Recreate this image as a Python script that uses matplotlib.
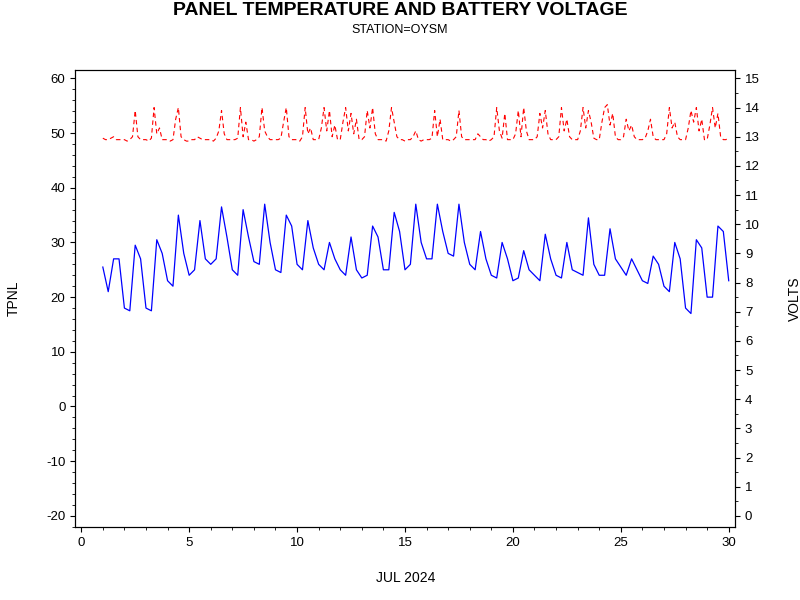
import numpy as np
import matplotlib.pyplot as plt
from matplotlib.ticker import MultipleLocator

plt.rcParams['font.family'] = ['Liberation Sans', 'DejaVu Sans']
plt.rcParams['axes.unicode_minus'] = False

# panel temperature, every 6 hours from day 1.0
temp_start = 1.0
tpnl = [
    25.5, 21, 27, 27,
    18, 17.5, 29.5, 27,
    18, 17.5, 30.5, 28,
    23, 22, 35, 28,
    24, 25, 34, 27,
    26, 27, 36.5, 31,
    25, 24, 36, 31,
    26.5, 26, 37, 30,
    25, 24.5, 35, 33,
    26, 25, 34, 29,
    26, 25, 30, 27,
    25, 24, 31, 25,
    23.5, 24, 33, 31,
    25, 25, 35.5, 32,
    25, 26, 37, 30,
    27, 27, 37, 32,
    28, 27.5, 37, 30,
    26, 25, 32, 27,
    24, 23.5, 30, 27,
    23, 23.5, 28.5, 25,
    24, 23, 31.5, 27,
    24, 23.5, 30, 25,
    24.5, 24, 34.5, 26,
    24, 24, 32.5, 27,
    25.5, 24, 27, 25,
    23, 22.5, 27.5, 26,
    22, 21, 30, 27,
    18, 17, 30.5, 29,
    20, 20, 33, 32,
    23,
]

# battery voltage, every 3 hours from day 1.0
volt_start = 1.0
volts = [
    12.95, 12.9, 12.9, 12.95, 13.0, 12.9, 12.9, 12.9,
    12.9, 12.85, 12.9, 13.0, 13.9, 13.0, 12.9, 12.9,
    12.9, 12.85, 12.95, 14.0, 13.1, 13.3, 12.9, 12.9,
    12.9, 12.85, 12.9, 13.6, 14.0, 13.0, 12.9, 12.85,
    12.85, 12.9, 12.9, 13.0, 12.95, 12.9, 12.9, 12.9,
    12.9, 12.85, 12.95, 13.2, 13.9, 13.1, 12.9, 12.9,
    12.9, 12.9, 12.95, 14.0, 13.0, 13.5, 12.9, 12.9,
    12.85, 12.9, 13.0, 14.0, 13.2, 13.0, 12.9, 12.9,
    12.9, 12.9, 12.95, 13.5, 14.0, 13.0, 12.9, 12.9,
    12.9, 12.85, 13.0, 14.0, 13.1, 13.3, 12.9, 12.9,
    12.9, 13.3, 14.0, 13.2, 13.9, 13.0, 13.4, 12.9,
    12.9, 13.5, 14.0, 13.2, 13.8, 13.1, 13.6, 12.9,
    12.9, 13.0, 13.9, 13.3, 14.0, 13.1, 12.9, 12.9,
    12.9, 12.85, 13.2, 14.0, 13.5, 13.0, 12.9, 12.9,
    12.85, 12.9, 12.9, 13.0, 13.2, 12.9, 12.85, 12.9,
    12.9, 12.9, 12.95, 13.9, 13.0, 13.6, 12.9, 12.9,
    12.9, 12.85, 12.9, 13.0, 13.9, 13.0, 12.9, 12.9,
    12.9, 12.9, 12.9, 13.1, 13.0, 12.9, 12.9, 12.85,
    12.9, 13.0, 14.0, 13.2, 12.95, 13.8, 12.9, 12.9,
    12.9, 13.1, 13.9, 13.0, 14.0, 13.2, 12.9, 12.9,
    12.9, 13.0, 13.8, 13.3, 13.9, 13.1, 12.9, 12.9,
    12.9, 13.0, 14.0, 13.2, 13.6, 13.0, 12.9, 12.9,
    12.9, 13.2, 14.0, 13.3, 13.9, 13.5, 12.95, 12.9,
    12.9, 13.5, 14.0, 14.1, 13.4, 13.8, 13.0, 12.9,
    12.9, 13.0, 13.6, 13.2, 13.4, 13.0, 12.9, 12.9,
    12.9, 12.95, 13.2, 13.6, 13.0, 12.9, 12.9, 12.9,
    12.9, 13.1, 14.0, 13.3, 13.5, 13.0, 12.9, 12.9,
    12.9, 13.3, 13.9, 13.5, 14.0, 13.2, 13.6, 12.9,
    12.9, 13.4, 14.0, 13.3, 13.8, 13.0, 12.9, 12.9,
    13.0,
]

t_days = temp_start + 0.25 * np.arange(len(tpnl))
v_days = volt_start + 0.125 * np.arange(len(volts))

fig = plt.figure(figsize=(8, 6), dpi=100)
ax = fig.add_axes([0.094, 0.122, 0.825, 0.761])
ax.plot(t_days, tpnl, color='blue', lw=0.9)
ax.set_xlim(-0.28, 30.3)
ax.set_ylim(-22, 61.5)
ax.xaxis.set_major_locator(MultipleLocator(5))
ax.xaxis.set_minor_locator(MultipleLocator(1))
ax.yaxis.set_major_locator(MultipleLocator(10))
ax.yaxis.set_minor_locator(MultipleLocator(2))
ax.set_ylabel('TPNL', fontsize=10, labelpad=18)
ax.set_xlabel('JUL 2024', fontsize=10, labelpad=16)

ax2 = ax.twinx()
ax2.plot(v_days, volts, color='red', lw=0.8, dashes=(4, 3))
ax2.set_ylim(-2 * 15 / 80, 81.5 * 15 / 80)
ax2.yaxis.set_major_locator(MultipleLocator(1))
ax2.yaxis.set_minor_locator(MultipleLocator(0.5))
ax2.set_ylabel('VOLTS', fontsize=10, labelpad=20)

for a in (ax, ax2):
    a.tick_params(labelsize=9.5)

fig.text(0.5, 0.982, 'PANEL TEMPERATURE AND BATTERY VOLTAGE',
         ha='center', va='center', fontsize=14, fontweight='bold')
fig.text(0.5, 0.95, 'STATION=OYSM', ha='center', va='center', fontsize=9)

plt.savefig('out.png', dpi=100)
